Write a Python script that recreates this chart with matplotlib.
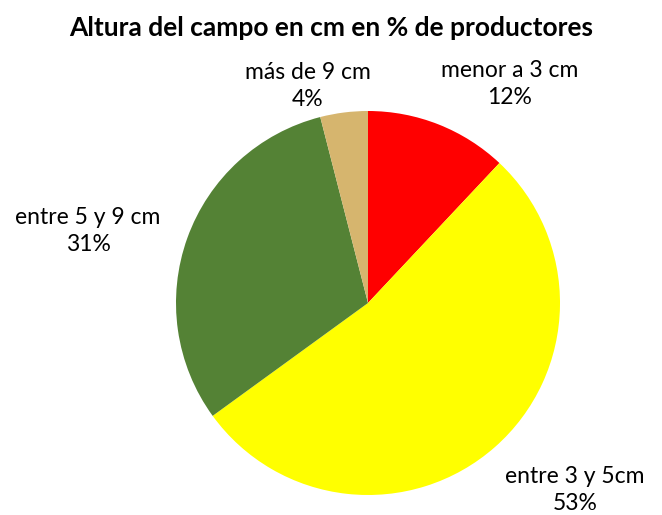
import matplotlib.pyplot as plt
import numpy as np

plt.rcParams['font.family'] = ['Lato', 'DejaVu Sans']

categories = ["menor a 3 cm", "entre 3 y 5cm", "entre 5 y 9 cm", "más de 9 cm"]
values = [12, 53, 31, 4]
colors = ["#FF0000", "#FFFF00", "#548235", "#D6B56E"]
# label text positions in figure pixels (x, y from top)
label_pos = [(510, 84), (575, 490), (88, 231), (308, 86)]

W, H = 662, 515
fig = plt.figure(figsize=(W / 100, H / 100), dpi=100)

cx, cy, r = 368, 303, 192
ax = fig.add_axes([(cx - r) / W, (H - cy - r) / H, 2 * r / W, 2 * r / H])
ax.pie(values, colors=colors, startangle=90, counterclock=False,
       radius=1, wedgeprops=dict(linewidth=0))
ax.set_xlim(-1, 1)
ax.set_ylim(-1, 1)
ax.axis("off")

for cat, val, (px, py) in zip(categories, values, label_pos):
    fig.text(px / W, 1 - py / H, f"{cat}\n{val}%", ha="center", va="center",
             fontsize=16.5, linespacing=1.4, color="black")

fig.text(331 / W, 1 - 28 / H, "Altura del campo en cm en % de productores",
         ha="center", va="center", fontsize=19, fontweight="bold")

fig.savefig("out.png", dpi=100)
